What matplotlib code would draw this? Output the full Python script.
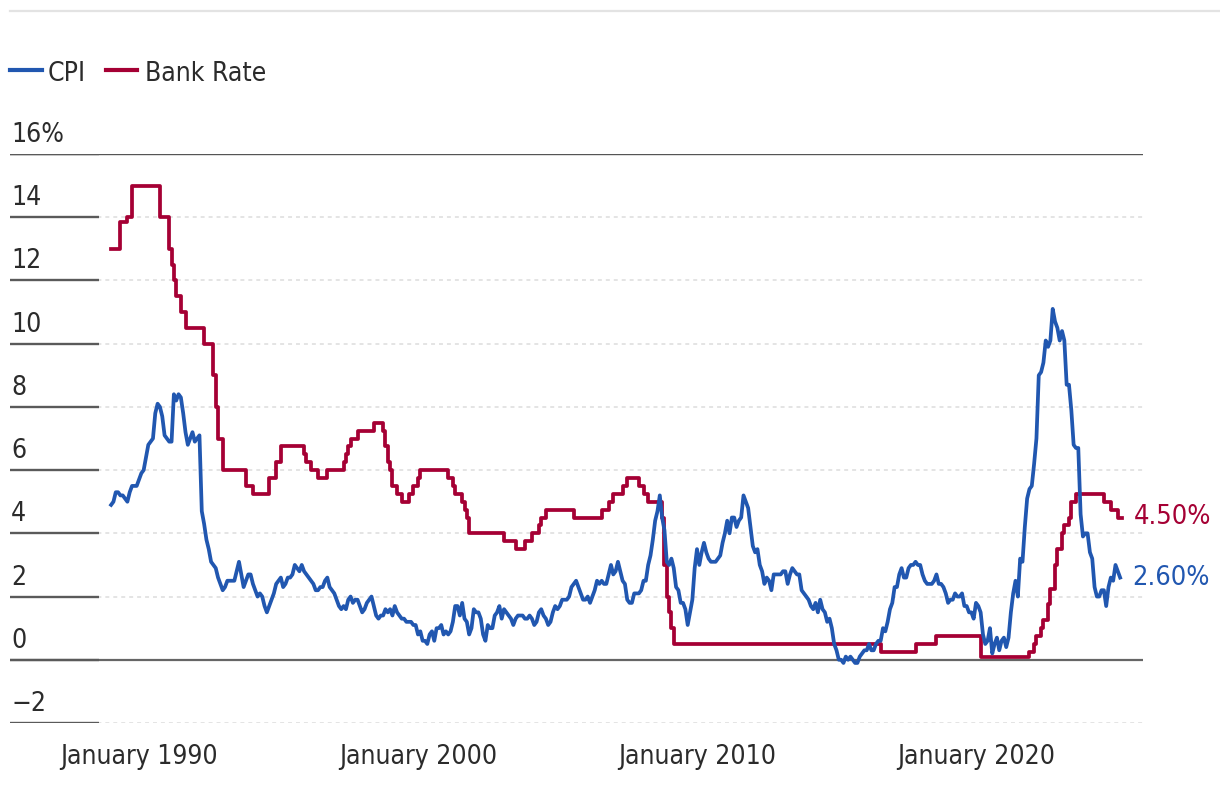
import numpy as np
import matplotlib
matplotlib.use("Agg")
import matplotlib.pyplot as plt
from matplotlib.lines import Line2D

plt.rcParams['font.family'] = ['DejaVu Sans']
plt.rcParams['font.stretch'] = 'condensed'

# UK CPI, annual rate (%), monthly from January 1989
cpi_start = 1989
cpi = [
    4.9, 5.0, 5.3, 5.3, 5.2, 5.2, 5.1, 5.0, 5.3, 5.5, 5.5, 5.5,      # 1989
    5.7, 5.9, 6.0, 6.4, 6.8, 6.9, 7.0, 7.8, 8.1, 8.0, 7.7, 7.1,      # 1990
    7.0, 6.9, 6.9, 8.4, 8.2, 8.4, 8.3, 7.8, 7.2, 6.8, 7.0, 7.2,      # 1991
    6.9, 7.0, 7.1, 4.7, 4.3, 3.8, 3.5, 3.1, 3.0, 2.9, 2.6, 2.4,      # 1992
    2.2, 2.3, 2.5, 2.5, 2.5, 2.5, 2.8, 3.1, 2.7, 2.3, 2.5, 2.7,      # 1993
    2.7, 2.4, 2.2, 2.0, 2.1, 2.0, 1.7, 1.5, 1.7, 1.9, 2.1, 2.4,      # 1994
    2.5, 2.6, 2.3, 2.4, 2.6, 2.6, 2.7, 3.0, 2.9, 2.8, 3.0, 2.8,      # 1995
    2.7, 2.6, 2.5, 2.4, 2.2, 2.2, 2.3, 2.3, 2.5, 2.6, 2.3, 2.2,      # 1996
    2.1, 1.9, 1.7, 1.6, 1.7, 1.6, 1.9, 2.0, 1.8, 1.9, 1.9, 1.7,      # 1997
    1.5, 1.6, 1.8, 1.9, 2.0, 1.7, 1.4, 1.3, 1.4, 1.4, 1.6, 1.5,      # 1998
    1.6, 1.4, 1.7, 1.5, 1.4, 1.3, 1.3, 1.2, 1.2, 1.2, 1.1, 1.1,      # 1999
    0.8, 0.9, 0.6, 0.6, 0.5, 0.8, 0.9, 0.6, 1.0, 1.0, 1.1, 0.8,      # 2000
    0.9, 0.8, 0.9, 1.2, 1.7, 1.7, 1.4, 1.8, 1.3, 1.2, 0.8, 1.0,      # 2001
    1.6, 1.5, 1.5, 1.3, 0.8, 0.6, 1.1, 1.0, 1.0, 1.4, 1.5, 1.7,      # 2002
    1.3, 1.6, 1.5, 1.4, 1.3, 1.1, 1.3, 1.4, 1.4, 1.4, 1.3, 1.3,      # 2003
    1.4, 1.3, 1.1, 1.2, 1.5, 1.6, 1.4, 1.3, 1.1, 1.2, 1.5, 1.7,      # 2004
    1.6, 1.7, 1.9, 1.9, 1.9, 2.0, 2.3, 2.4, 2.5, 2.3, 2.1, 1.9,      # 2005
    1.9, 2.0, 1.8, 2.0, 2.2, 2.5, 2.4, 2.5, 2.4, 2.4, 2.7, 3.0,      # 2006
    2.7, 2.8, 3.1, 2.8, 2.5, 2.4, 1.9, 1.8, 1.8, 2.1, 2.1, 2.1,      # 2007
    2.2, 2.5, 2.5, 3.0, 3.3, 3.8, 4.4, 4.7, 5.2, 4.5, 4.1, 3.1,      # 2008
    3.0, 3.2, 2.9, 2.3, 2.2, 1.8, 1.8, 1.6, 1.1, 1.5, 1.9, 2.9,      # 2009
    3.5, 3.0, 3.4, 3.7, 3.4, 3.2, 3.1, 3.1, 3.1, 3.2, 3.3, 3.7,      # 2010
    4.0, 4.4, 4.0, 4.5, 4.5, 4.2, 4.4, 4.5, 5.2, 5.0, 4.8, 4.2,      # 2011
    3.6, 3.4, 3.5, 3.0, 2.8, 2.4, 2.6, 2.5, 2.2, 2.7, 2.7, 2.7,      # 2012
    2.7, 2.8, 2.8, 2.4, 2.7, 2.9, 2.8, 2.7, 2.7, 2.2, 2.1, 2.0,      # 2013
    1.9, 1.7, 1.6, 1.8, 1.5, 1.9, 1.6, 1.5, 1.2, 1.3, 1.0, 0.5,      # 2014
    0.3, 0.0, 0.0, -0.1, 0.1, 0.0, 0.1, 0.0, -0.1, -0.1, 0.1, 0.2,   # 2015
    0.3, 0.3, 0.5, 0.3, 0.3, 0.5, 0.6, 0.6, 1.0, 0.9, 1.2, 1.6,      # 2016
    1.8, 2.3, 2.3, 2.7, 2.9, 2.6, 2.6, 2.9, 3.0, 3.0, 3.1, 3.0,      # 2017
    3.0, 2.7, 2.5, 2.4, 2.4, 2.4, 2.5, 2.7, 2.4, 2.4, 2.3, 2.1,      # 2018
    1.8, 1.9, 1.9, 2.1, 2.0, 2.0, 2.1, 1.7, 1.7, 1.5, 1.5, 1.3,      # 2019
    1.8, 1.7, 1.5, 0.8, 0.5, 0.6, 1.0, 0.2, 0.5, 0.7, 0.3, 0.6,      # 2020
    0.7, 0.4, 0.7, 1.5, 2.1, 2.5, 2.0, 3.2, 3.1, 4.2, 5.1, 5.4,      # 2021
    5.5, 6.2, 7.0, 9.0, 9.1, 9.4, 10.1, 9.9, 10.1, 11.1, 10.7, 10.5, # 2022
    10.1, 10.4, 10.1, 8.7, 8.7, 7.9, 6.8, 6.7, 6.7, 4.6, 3.9, 4.0,   # 2023
    4.0, 3.4, 3.2, 2.3, 2.0, 2.0, 2.2, 2.2, 1.7, 2.3, 2.6, 2.5,      # 2024
    3.0, 2.8, 2.6,                                                   # 2025
]

# Bank Rate (%): month of each change and the new level
bank_rate_dates = [
    (1989, 1), (1989, 5), (1989, 8), (1989, 10), (1990, 10), (1991, 2),
    (1991, 3), (1991, 4), (1991, 5), (1991, 7), (1991, 9), (1992, 5),
    (1992, 9), (1992, 10), (1992, 11), (1993, 1), (1993, 11), (1994, 2),
    (1994, 9), (1994, 12), (1995, 2), (1995, 12), (1996, 1), (1996, 3),
    (1996, 6), (1996, 10), (1997, 5), (1997, 6), (1997, 7), (1997, 8),
    (1997, 11), (1998, 6), (1998, 10), (1998, 11), (1998, 12), (1999, 1),
    (1999, 2), (1999, 4), (1999, 6), (1999, 9), (1999, 11), (2000, 1),
    (2000, 2), (2001, 2), (2001, 4), (2001, 5), (2001, 8), (2001, 9),
    (2001, 10), (2001, 11), (2003, 2), (2003, 7), (2003, 11), (2004, 2),
    (2004, 5), (2004, 6), (2004, 8), (2005, 8), (2006, 8), (2006, 11),
    (2007, 1), (2007, 5), (2007, 7), (2007, 12), (2008, 2), (2008, 4),
    (2008, 10), (2008, 11), (2008, 12), (2009, 1), (2009, 2), (2009, 3),
    (2016, 8), (2017, 11), (2018, 8), (2020, 3), (2021, 12), (2022, 2),
    (2022, 3), (2022, 5), (2022, 6), (2022, 8), (2022, 9), (2022, 11),
    (2022, 12), (2023, 2), (2023, 3), (2023, 5), (2023, 6), (2023, 8),
    (2024, 8), (2024, 11), (2025, 2),
]
bank_rate = [
    13.0, 13.85, 14.0, 15.0, 14.0, 13.0,
    12.5, 12.0, 11.5, 11.0, 10.5, 10.0,
    9.0, 8.0, 7.0, 6.0, 5.5, 5.25,
    5.75, 6.25, 6.75, 6.5, 6.25, 6.0,
    5.75, 6.0, 6.25, 6.5, 6.75, 7.0,
    7.25, 7.5, 7.25, 6.75, 6.25, 6.0,
    5.5, 5.25, 5.0, 5.25, 5.5, 5.75,
    6.0, 5.75, 5.5, 5.25, 5.0, 4.75,
    4.5, 4.0, 3.75, 3.5, 3.75, 4.0,
    4.25, 4.5, 4.75, 4.5, 4.75, 5.0,
    5.25, 5.5, 5.75, 5.5, 5.25, 5.0,
    4.5, 3.0, 2.0, 1.5, 1.0, 0.5,
    0.25, 0.5, 0.75, 0.1, 0.25, 0.5,
    0.75, 1.0, 1.25, 1.75, 2.25, 3.0,
    3.5, 4.0, 4.25, 4.5, 5.0, 5.25,
    5.0, 4.75, 4.5,
]
bank_rate_end = (2025, 4)

y_ticks = [16, 14, 12, 10, 8, 6, 4, 2, 0, -2]
y_labels = ["16%", "14", "12", "10", "8", "6", "4", "2", "0", "\u22122"]
x_ticks = [1990, 2000, 2010, 2020]
x_labels = ["January 1990", "January 2000", "January 2010", "January 2020"]

BLUE = "#2157b0"
RED = "#a50034"
TEXT = "#2b2b2b"

W, H = 1220, 790
fig = plt.figure(figsize=(W / 100, H / 100), dpi=100)
ax = fig.add_axes([10 / W, (H - 723) / H, (1143 - 10) / W, (723 - 154) / H])

cpi_x = cpi_start + np.arange(len(cpi)) / 12
br_x = [y + (m - 1) / 12 for y, m in bank_rate_dates]
br_x.append(bank_rate_end[0] + (bank_rate_end[1] - 1) / 12)
br_y = bank_rate + [bank_rate[-1]]

ax.set_xlim(1985.376, 2025.986)
ax.set_ylim(-2, 16)

# grid
for v, lab in zip(y_ticks, y_labels):
    if v == 0:
        ax.axhline(v, color="#666666", lw=1.6, zorder=1)
    elif v == 16:
        ax.axhline(v, color="#555555", lw=1.0, zorder=1)
    else:
        ax.axhline(v, color="#dddddd", lw=1.1, ls=(0, (2.6, 2.6)), zorder=1)
    # dark tick stub on the left
    ax.plot([0, 89 / 1133], [v, v], color="#5a5a5a", lw=1.7,
            transform=ax.get_yaxis_transform(), solid_capstyle="butt", zorder=2)
    ax.text(0.001, v + 0.38, lab, transform=ax.get_yaxis_transform(),
            ha="left", va="baseline", fontsize=19, color=TEXT)

ax.plot(cpi_x, cpi, color=BLUE, lw=2.7, zorder=4, solid_joinstyle="round")
ax.step(br_x, br_y, where="post", color=RED, lw=2.7, zorder=3)

# end labels
ax.annotate("4.50%", xy=(br_x[-1], br_y[-1]), xytext=(8, -5), textcoords="offset points",
            ha="left", va="baseline", fontsize=19.5, color=RED)
ax.annotate("2.60%", xy=(cpi_x[-1], cpi[-1]), xytext=(9, -5), textcoords="offset points",
            ha="left", va="baseline", fontsize=19.5, color=BLUE)

ax.set_xticks(x_ticks)
ax.set_xticklabels(x_labels, fontsize=19, color=TEXT)
ax.set_yticks([])
ax.tick_params(axis="x", length=0, pad=15)
for s in ax.spines.values():
    s.set_visible(False)

# top rule and legend
fig.add_artist(Line2D([10 / W, 1], [1 - 11 / H, 1 - 11 / H], color="#e3e3e3", lw=1.6))
fig.add_artist(Line2D([10 / W, 42 / W], [1 - 70 / H, 1 - 70 / H], color=BLUE, lw=3))
fig.text(48 / W, 1 - 81 / H, "CPI", fontsize=19, color=TEXT, va="baseline")
fig.add_artist(Line2D([106 / W, 137 / W], [1 - 70 / H, 1 - 70 / H], color=RED, lw=3))
fig.text(145 / W, 1 - 81 / H, "Bank Rate", fontsize=19, color=TEXT, va="baseline")

fig.savefig("out.png", dpi=100)
